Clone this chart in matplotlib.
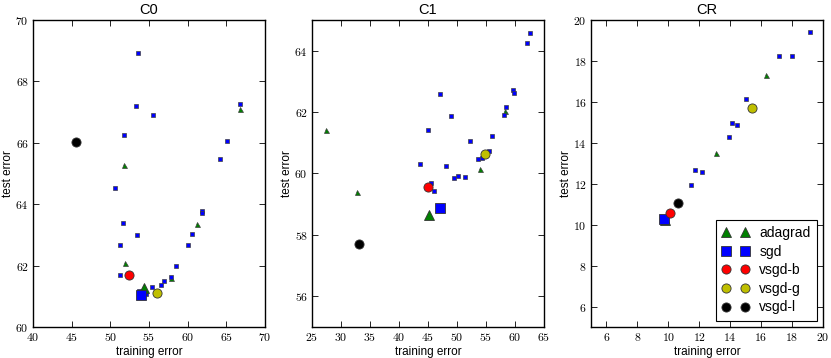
#!/usr/bin/env python3
'training vs test error for three datasets'

import matplotlib
matplotlib.use('Agg')
import matplotlib.pyplot as plt
from matplotlib.ticker import MultipleLocator, FuncFormatter

# legend order / colours of the methods
METHODS = ['adagrad', 'sgd', 'vsgd-b', 'vsgd-g', 'vsgd-l']
MARKERS = ['^', 's', 'o', 'o', 'o']
COLORS = ['g', 'b', 'r', 'y', 'k']

# C0: the hyper parameter sweep (small marks)
C0_ADAGRAD_TRAIN = [51.8, 51.9, 61.2, 66.8, 57.9]
C0_ADAGRAD_TEST = [65.29, 62.10, 63.34, 67.09, 61.6]
C0_SGD_TRAIN = [53.6, 53.3, 55.5, 51.8, 66.8, 65.06, 64.15, 50.6, 61.83, 61.83,
                51.6, 60.55, 53.5, 51.2, 60.1, 58.5, 51.3, 57.9, 57.0, 56.6,
                55.4, 54.65, 53.7]
C0_SGD_TEST = [68.93, 67.2, 66.91, 66.24, 67.26, 66.05, 65.46, 64.52, 63.77, 63.72,
               63.40, 63.03, 62.99, 62.67, 62.68, 62.0, 61.68, 61.63, 61.50, 61.38,
               61.30, 61.07, 61.17]
# C0: best run per method (large marks), same order as METHODS
C0_BEST_TRAIN = [54.3, 53.97, 52.4, 56.07, 45.6]
C0_BEST_TEST = [61.28, 61.05, 61.70, 61.10, 66.03]

# C1
C1_ADAGRAD_TRAIN = [27.46, 32.7, 54.0, 58.2]
C1_ADAGRAD_TEST = [61.42, 59.39, 60.15, 62.05]
C1_SGD_TRAIN = [62.65, 62.0, 47.06, 59.6, 59.8, 48.95, 58.47, 58.07, 44.94, 56.06,
                52.2, 55.6, 53.7, 54.28, 43.57, 48.1, 49.47, 50.1, 51.4, 45.5, 46.03]
C1_SGD_TEST = [64.59, 64.24, 62.60, 62.72, 62.63, 61.87, 62.16, 61.91, 61.42, 61.23,
               61.06, 60.73, 60.47, 60.52, 60.31, 60.26, 59.86, 59.91, 59.88, 59.69, 59.43]
C1_BEST_TRAIN = [45.1, 47.1, 45.06, 54.9, 33.1]
C1_BEST_TEST = [58.66, 58.86, 59.55, 60.63, 57.71]

# CR
CR_ADAGRAD_TRAIN = [16.3, 13.1, 9.84]
CR_ADAGRAD_TEST = [17.29, 13.49, 10.21]
CR_SGD_TRAIN = [19.18, 18.0, 17.14, 15.0, 14.1, 14.47, 13.93, 11.71, 12.17, 11.46]
CR_SGD_TEST = [19.43, 18.25, 18.25, 16.12, 14.99, 14.85, 14.29, 12.68, 12.59, 11.93]
CR_BEST_TRAIN = [9.8, 9.69, 10.12, 15.42, 10.64]
CR_BEST_TEST = [10.25, 10.28, 10.57, 15.69, 11.06]

TITLES = ['C0', 'C1', 'CR']

SANS = ['Liberation Sans', 'DejaVu Sans']
plt.rcParams['mathtext.fontset'] = 'cm'


def tick_fmt(v, pos):
    return r'$%d$' % round(v)


def draw_panel(ax, title, ada, sgd, best, xlim, ylim, xstep, ystep):
    # sweep points
    ax.plot(ada[0], ada[1], '^', color='g', markersize=3.6, markeredgecolor='0.25',
            markeredgewidth=0.5, linestyle='none')
    ax.plot(sgd[0], sgd[1], 's', color='b', markersize=3.3, markeredgecolor='0.25',
            markeredgewidth=0.5, linestyle='none')
    # best run per method
    handles = []
    for i, name in enumerate(METHODS):
        h, = ax.plot([best[0][i]], [best[1][i]], MARKERS[i], color=COLORS[i],
                     markersize=6.6, markeredgecolor='0.2', markeredgewidth=0.6,
                     linestyle='none', label=name)
        handles.append(h)

    ax.set_xlim(*xlim)
    ax.set_ylim(*ylim)
    ax.xaxis.set_major_locator(MultipleLocator(xstep))
    ax.yaxis.set_major_locator(MultipleLocator(ystep))
    ax.xaxis.set_major_formatter(FuncFormatter(tick_fmt))
    ax.yaxis.set_major_formatter(FuncFormatter(tick_fmt))
    ax.tick_params(direction='in', top=True, right=True, length=4, width=0.6,
                   labelsize=8.5, pad=3)
    for s in ax.spines.values():
        s.set_linewidth(1.0)
    ax.set_title(title, fontsize=10.5, family=SANS, pad=4)
    ax.set_xlabel('training error', fontsize=8.5, family=SANS, labelpad=1)
    ax.set_ylabel('test error', fontsize=8.5, family=SANS, labelpad=1)
    return handles


def main():
    fig = plt.figure(figsize=(8.31, 3.58), dpi=100)
    fig.patch.set_facecolor('white')
    w, h = 232 / 831, 307 / 358
    b = 31 / 358
    ax0 = fig.add_axes([33 / 831, b, w, h])
    ax1 = fig.add_axes([312 / 831, b, w, h])
    ax2 = fig.add_axes([591 / 831, b, w, h])

    draw_panel(ax0, TITLES[0], (C0_ADAGRAD_TRAIN, C0_ADAGRAD_TEST),
               (C0_SGD_TRAIN, C0_SGD_TEST), (C0_BEST_TRAIN, C0_BEST_TEST),
               (40, 70), (60, 70), 5, 2)
    draw_panel(ax1, TITLES[1], (C1_ADAGRAD_TRAIN, C1_ADAGRAD_TEST),
               (C1_SGD_TRAIN, C1_SGD_TEST), (C1_BEST_TRAIN, C1_BEST_TEST),
               (25, 65), (55, 65), 5, 2)
    handles = draw_panel(ax2, TITLES[2], (CR_ADAGRAD_TRAIN, CR_ADAGRAD_TEST),
                         (CR_SGD_TRAIN, CR_SGD_TEST), (CR_BEST_TRAIN, CR_BEST_TEST),
                         (5, 20), (5, 20), 2, 2)
    ax1.set_yticks([56, 58, 60, 62, 64])
    ax2.set_xticks(range(6, 21, 2))
    ax2.set_yticks(range(6, 21, 2))

    # legend (old style: two markers per entry)
    leg = ax2.legend(handles=handles, loc='lower right', numpoints=2,
                     prop={'family': SANS, 'size': 10}, fancybox=False,
                     framealpha=1, borderpad=0.45, labelspacing=0.33,
                     handlelength=2.0, handletextpad=0.7, borderaxespad=0.45)
    leg.get_frame().set_edgecolor('k')
    leg.get_frame().set_linewidth(0.8)

    plt.savefig('out.png', dpi=100)
    plt.close()


if __name__ == '__main__':
    main()
